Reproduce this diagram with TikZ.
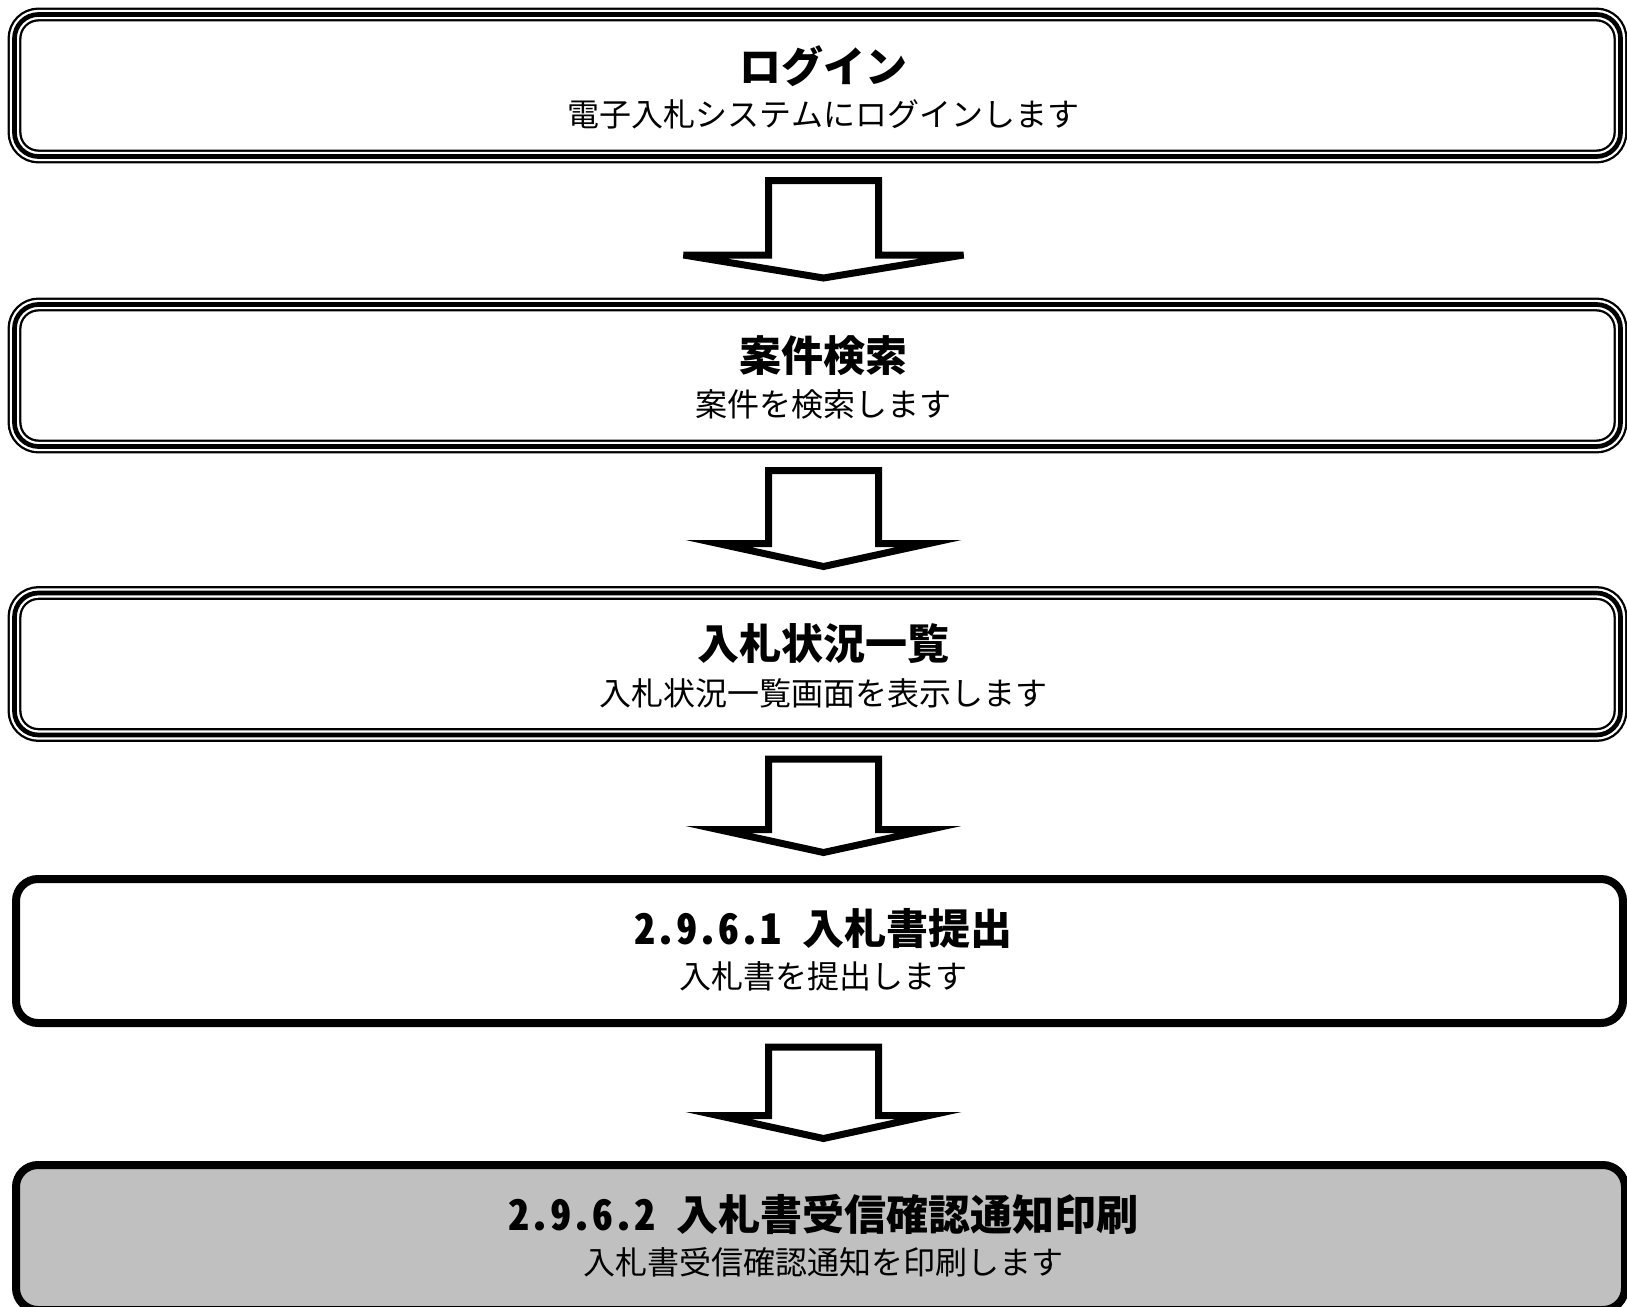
\documentclass[tikz,border=0pt]{standalone}
\usepackage{fontspec}
\usetikzlibrary{calc}
\newfontfamily\jpfont{Noto Sans CJK JP}
\newfontfamily\jptitle[RawFeature=+hwid]{Noto Sans CJK JP}
\definecolor{boxgray}{RGB}{192,192,192}

% block arrow from the box #1 down to the box #2, #3 = half width of the head
\newcommand{\flowarrow}[3]{%
  \draw[blkarrow] ($(col |- #1.south)+(-55,24)$) -- ($(col |- #1.south)+(55,24)$)
    -- ($(col |- #2.north)+(55,-49.5)$) -- ($(col |- #2.north)+(#3,-49.5)$)
    -- ($(col |- #2.north)+(0,-26.5)$) -- ($(col |- #2.north)+(-#3,-49.5)$)
    -- ($(col |- #2.north)+(-55,-49.5)$) -- cycle;}

\begin{document}
\begin{tikzpicture}[x=1pt,y=-1pt,
  dblbox/.style={draw,line width=4.7pt,rounded corners=24pt,inner sep=0pt,outer sep=0pt,
    preaction={draw,line width=2.3pt,double=white,double distance=9.3pt}},
  singlebox/.style={draw,line width=8pt,rounded corners=22pt,inner sep=0pt,outer sep=0pt},
  ttl/.style={font=\jptitle\bfseries\fontsize{42}{50}\selectfont},
  subtxt/.style={font=\jpfont\fontsize{32}{38}\selectfont},
  blkarrow/.style={draw,line width=7pt,fill=white,line join=miter}]
\useasboundingbox (0,0) rectangle (1627,1306);
\clip (0,0) rectangle (1627,1306);
\coordinate (col) at (823.5,0);

% boxes
\node[dblbox,minimum width=1606pt,minimum height=142pt] (login) at (817.5,85.5) {};
\node[dblbox,minimum width=1606pt,minimum height=142pt] (search) at (817.5,375.5) {};
\node[dblbox,minimum width=1606pt,minimum height=142pt] (status) at (817.5,664) {};
\node[singlebox,minimum width=1607pt,minimum height=144pt] (submit) at (819.5,951) {};
\node[singlebox,fill=boxgray,minimum width=1609pt,minimum height=145pt] (receipt) at (820.5,1237.5) {};

% texts
\node[ttl] (loginT) at ($(col |- login.center)+(0,-19)$) {ログイン};
\node[subtxt] (loginS) at ($(col |- login.center)+(0,29)$) {電子入札システムにログインします};
\node[ttl] (searchT) at ($(col |- search.center)+(0,-20)$) {案件検索};
\node[subtxt] (searchS) at ($(col |- search.center)+(0,29)$) {案件を検索します};
\node[ttl] (statusT) at ($(col |- status.center)+(0,-20)$) {入札状況一覧};
\node[subtxt] (statusS) at ($(col |- status.center)+(0,29)$) {入札状況一覧画面を表示します};
\node[ttl] (submitT) at ($(col |- submit.center)+(0,-22)$) {2.9.6.1 入札書提出};
\node[subtxt] (submitS) at ($(col |- submit.center)+(0,25)$) {入札書を提出します};
\node[ttl] (receiptT) at ($(col |- receipt.center)+(0,-23.5)$) {2.9.6.2 入札書受信確認通知印刷};
\node[subtxt] (receiptS) at ($(col |- receipt.center)+(0,25)$) {入札書受信確認通知を印刷します};

% arrows
\flowarrow{login}{search}{140}
\flowarrow{search}{status}{105.5}
\flowarrow{status}{submit}{105.5}
\flowarrow{submit}{receipt}{105.5}
\end{tikzpicture}
\end{document}
